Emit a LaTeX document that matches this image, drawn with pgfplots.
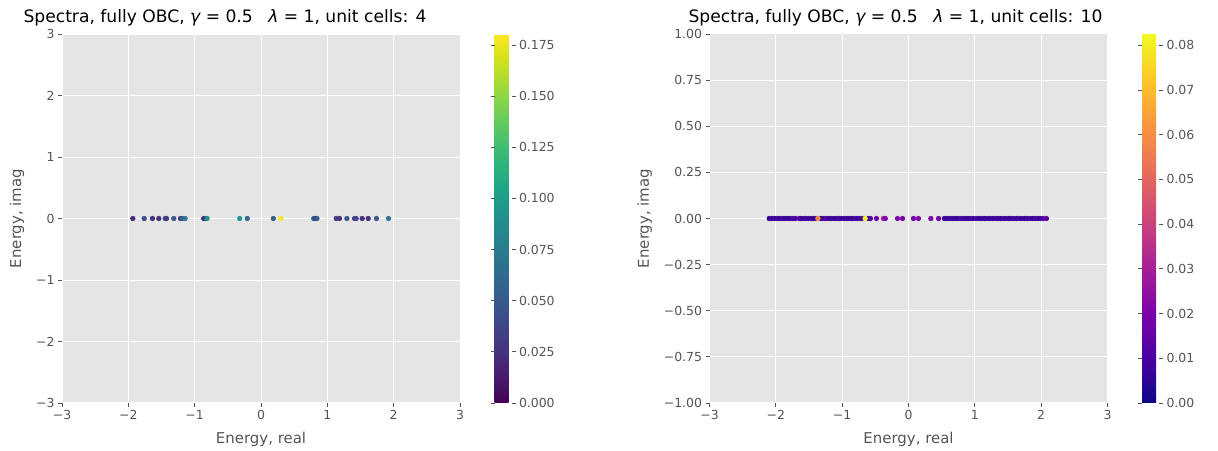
\documentclass[border=0pt]{standalone}
\usepackage{fontspec}
\setmainfont{DejaVu Sans}
\usepackage{pgfplots}
\usepackage{pgfplotstable}
\pgfplotsset{compat=1.18}
\definecolor{bggray}{RGB}{229,229,229}
\definecolor{tickgray}{RGB}{85,85,85}
\newcommand{\tickfont}{\fontsize{12.5}{14}\selectfont}
\newcommand{\labelfont}{\fontsize{15}{18}\selectfont}
\newcommand{\titlefont}{\fontsize{17.2}{20}\selectfont}
\pgfplotsset{
  colormap={plasma}{rgb255=(13,8,135) rgb255=(76,2,161) rgb255=(126,3,168) rgb255=(169,35,149) rgb255=(204,71,120) rgb255=(230,108,92) rgb255=(248,149,64) rgb255=(253,197,39) rgb255=(240,249,33)},
  ggstyle/.style={
    scale only axis, width=398bp, height=369bp,
    axis background/.style={fill=bggray},
    grid=major, major grid style={white, line width=1bp},
    axis line style={draw=none},
    tick align=outside, major tick length=4bp,
    tick style={tickgray, line width=0.8bp},
    xtick pos=bottom, ytick pos=left,
    ticklabel style={font=\tickfont, text=tickgray},
    label style={font=\labelfont, text=tickgray},
    xlabel style={yshift=-5bp},
    ylabel style={yshift=5bp},
    /pgf/number format/assume math mode=true,
    xmin=-3, xmax=3,
    xtick={-3,-2,-1,0,1,2,3},
    xticklabels={−3,−2,−1,0,1,2,3},
    xlabel={Energy, real}, ylabel={Energy, imag},
    colorbar,
  },
  cbstyle/.style={
    width=17bp,
    at={(parent axis.north east)}, anchor=north west, xshift=26bp,
    axis line style={draw=none},
    tick align=outside, major tick length=4bp,
    tick style={tickgray, line width=0.8bp},
    yticklabel style={font=\tickfont, text=tickgray},
    /pgf/number format/assume math mode=true,
    scaled y ticks=false,
  },
}
\pgfplotstableread{
x y c
-1.932 0 0.020
-1.761 0 0.040
-1.636 0 0.025
-1.540 0 0.025
-1.445 0 0.045
-1.425 0 0.030
-1.315 0 0.050
-1.214 0 0.030
-1.189 0 0.050
-1.144 0 0.070
-0.863 0 0.020
-0.838 0 0.030
-0.813 0 0.090
-0.321 0 0.095
-0.206 0 0.060
0.186 0 0.055
0.793 0 0.070
0.818 0 0.030
0.843 0 0.050
1.134 0 0.030
1.184 0 0.025
1.295 0 0.050
1.410 0 0.030
1.435 0 0.040
1.525 0 0.025
1.616 0 0.025
1.741 0 0.050
1.922 0 0.070
0.301 0 0.178
}\leftdata
\pgfplotstableread{
x y c
-2.100 0 0.006
-2.062 0 0.008
-2.021 0 0.007
-1.983 0 0.009
-1.942 0 0.006
-1.905 0 0.010
-1.864 0 0.007
-1.826 0 0.008
-1.785 0 0.006
-1.748 0 0.011
-1.707 0 0.007
-1.650 0 0.020
-1.628 0 0.009
-1.589 0 0.006
-1.549 0 0.008
-1.511 0 0.007
-1.470 0 0.010
-1.432 0 0.006
-1.392 0 0.009
-1.330 0 0.016
-1.314 0 0.007
-1.274 0 0.008
-1.236 0 0.012
-1.196 0 0.006
-1.157 0 0.009
-1.118 0 0.007
-1.078 0 0.008
-1.040 0 0.011
-1.001 0 0.006
-0.961 0 0.009
-0.922 0 0.007
-0.883 0 0.008
-0.844 0 0.006
-0.806 0 0.010
-0.767 0 0.007
-0.728 0 0.009
-0.690 0 0.008
-0.610 0 0.008
-0.575 0 0.010
-0.483 0 0.018
-0.380 0 0.030
-0.350 0 0.020
-0.166 0 0.020
-0.090 0 0.018
0.075 0 0.018
0.150 0 0.020
0.337 0 0.020
0.453 0 0.018
0.540 0 0.008
0.581 0 0.006
0.620 0 0.009
0.660 0 0.007
0.700 0 0.008
0.741 0 0.006
0.781 0 0.010
0.822 0 0.007
0.862 0 0.008
0.902 0 0.006
0.943 0 0.009
0.983 0 0.007
1.023 0 0.011
1.064 0 0.006
1.104 0 0.008
1.144 0 0.007
1.185 0 0.009
1.225 0 0.006
1.265 0 0.010
1.306 0 0.007
1.346 0 0.008
1.386 0 0.006
1.427 0 0.009
1.467 0 0.007
1.507 0 0.008
1.548 0 0.006
1.588 0 0.010
1.628 0 0.007
1.669 0 0.009
1.709 0 0.006
1.749 0 0.008
1.790 0 0.007
1.830 0 0.010
1.870 0 0.006
1.911 0 0.009
1.951 0 0.007
1.991 0 0.008
2.032 0 0.012
2.080 0 0.015
-1.365 0 0.060
-0.654 0 0.082
}\rightdata
\begin{document}
\begin{tikzpicture}
\path[use as bounding box] (0,0) rectangle (1218bp,451bp);
\begin{axis}[ggstyle,
  at={(62bp,48bp)}, anchor=south west,
  ymin=-3, ymax=3,
  ytick={-3,-2,-1,0,1,2,3},
  yticklabels={−3,−2,−1,0,1,2,3},
  title={Spectra, fully OBC, {\itshape γ} = 0.5\hspace{0.9em}{\itshape λ} = 1, unit cells: 4},
  title style={font=\titlefont, yshift=-2bp, xshift=-36bp},
  colormap name=viridis,
  point meta min=0, point meta max=0.1804,
  colorbar style={cbstyle,
    ytick={0,0.025,0.05,0.075,0.1,0.125,0.15,0.175},
    yticklabels={0.000,0.025,0.050,0.075,0.100,0.125,0.150,0.175}},
]
\addplot[scatter, only marks, mark=*, mark size=2.4bp,
  scatter/use mapped color={draw=mapped color, fill=mapped color},
  point meta=explicit] table[x=x, y=y, meta=c] {\leftdata};
\end{axis}
\begin{axis}[ggstyle,
  at={(709.5bp,48bp)}, anchor=south west,
  ymin=-1, ymax=1,
  ytick={-1,-0.75,-0.5,-0.25,0,0.25,0.5,0.75,1},
  yticklabels={−1.00,−0.75,−0.50,−0.25,0.00,0.25,0.50,0.75,1.00},
  title={Spectra, fully OBC, {\itshape γ} = 0.5\hspace{0.9em}{\itshape λ} = 1, unit cells: 10},
  title style={font=\titlefont, yshift=-2bp, xshift=-13bp},
  colormap name=plasma,
  point meta min=0, point meta max=0.0825,
  colorbar style={cbstyle,
    ytick={0,0.01,0.02,0.03,0.04,0.05,0.06,0.07,0.08},
    yticklabels={0.00,0.01,0.02,0.03,0.04,0.05,0.06,0.07,0.08}},
]
\addplot[scatter, only marks, mark=*, mark size=2.4bp,
  scatter/use mapped color={draw=mapped color, fill=mapped color},
  point meta=explicit] table[x=x, y=y, meta=c] {\rightdata};
\end{axis}
\end{tikzpicture}
\end{document}
